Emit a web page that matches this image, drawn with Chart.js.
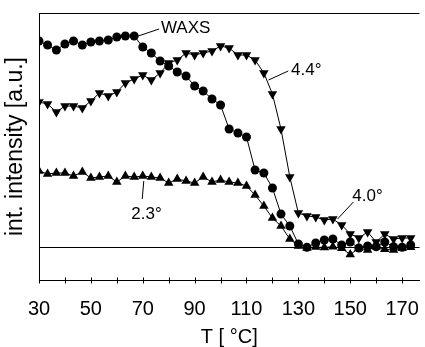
<!DOCTYPE html>
<html><head><meta charset="utf-8">
<script src="https://cdn.jsdelivr.net/npm/chart.js@4/dist/chart.umd.min.js"></script>
<style>html,body{margin:0;padding:0;background:#fff}canvas{display:block}</style>
</head><body><canvas id="c" width="425" height="347"></canvas>
<script>
// Temperature (°C) of each measurement
const temperatures = [30, 33.3, 36.7, 40, 43.3, 46.7, 50, 53.3, 56.7, 60, 63.3, 66.7, 70, 73.3, 76.7, 80, 83.3, 86.7, 90, 93.3, 96.7, 100, 103.3, 106.7, 110, 113.3, 116.7, 120, 123.3, 126.7, 130, 133.3, 136.7, 140, 143.3, 146.7, 150, 153.3, 156.7, 160, 163.3, 166.7, 170, 173.3];
// Integrated intensities [a.u.] (baseline = 0)
const waxs = [206, 202, 197, 203, 206, 202, 205, 206, 207, 210, 211, 211, 200, 194, 186, 181, 175, 171, 161, 156, 148, 142, 118, 114, 110, 77, 74, 59, 33, 21, 3, -0.3, 4, 7, 8, 2, 5, -1, 1, 0.3, 5, 0.3, -0.3, 2];
const peak44 = [145, 143, 135, 141, 141, 139, 146, 154, 151, 155, 164, 168, 172, 167, 174, 184, 187, 194, 192, 194, 196, 201, 199, 192, 192, 187, 174, 153, 118, 70, 34, 31, 30, 27, 28, 22, 13, 9, 15, 5, 13, 8, 9, 9];
const peak23 = [76, 73, 74, 74, 71, 75, 69, 70, 71, 65, 71, 70, 71, 70, 69, 64, 68, 66, 64, 70, 65, 67, 65, 64, 61, 52, 41, 29, 21, 8, 1, -1, 0, -0.5, 0.3, -1.3, -7.5, -1.3, -3, 0.3, -2.3, -3, -1.3, -0.3];
const xTickValues = [30, 40, 50, 60, 70, 80, 90, 100, 110, 120, 130, 140, 150, 160, 170];
const xTickLabels = ['30', '', '50', '', '70', '', '90', '', '110', '', '130', '', '150', '', '170'];
const seriesLabels = ['WAXS', '4.4°', '2.3°', '4.0°'];

const toPts = arr => arr.map((v, i) => ({x: temperatures[i], y: v}));

const FONT = '"Liberation Sans", Arial, Helvetica, sans-serif';

const annotations = [
  {text: seriesLabels[0], tx: 77.0, ty: 219, l: [[68.3, 211], [76.3, 218]]},
  {text: seriesLabels[1], tx: 127.2, ty: 177, l: [[118.5, 167], [126.1, 176]]},
  {text: seriesLabels[2], tx: 65.6, ty: 33, l: [[70.4, 66], [69.8, 48]]},
  {text: seriesLabels[3], tx: 150.8, ty: 51, l: [[145.1, 28], [151.2, 45]]}
];

const deco = {
  id: 'deco',
  afterDraw(chart) {
    const ctx = chart.ctx, xs = chart.scales.x, ys = chart.scales.y;
    ctx.save();
    ctx.strokeStyle = '#000';
    ctx.lineWidth = 1;
    const yb = Math.round(chart.chartArea.bottom) + 0.5;
    xTickValues.forEach(v => {
      const px = Math.round(xs.getPixelForValue(v)) + 0.5;
      ctx.beginPath(); ctx.moveTo(px, yb - 3); ctx.lineTo(px, yb + 3); ctx.stroke();
    });
    ctx.fillStyle = '#000';
    ctx.font = '17px ' + FONT;
    ctx.textBaseline = 'middle';
    ctx.textAlign = 'left';
    annotations.forEach(a => {
      ctx.beginPath();
      ctx.moveTo(xs.getPixelForValue(a.l[0][0]), ys.getPixelForValue(a.l[0][1]));
      ctx.lineTo(xs.getPixelForValue(a.l[1][0]), ys.getPixelForValue(a.l[1][1]));
      ctx.stroke();
      ctx.fillText(a.text, xs.getPixelForValue(a.tx), ys.getPixelForValue(a.ty));
    });
    ctx.restore();
  }
};

const base = {borderColor: '#000', borderWidth: 1, pointBackgroundColor: '#000', pointBorderColor: '#000', pointBorderWidth: 0, tension: 0, fill: false};

new Chart(document.getElementById('c'), {
  type: 'line',
  data: {
    datasets: [
      Object.assign({label: 'WAXS', data: toPts(waxs), pointStyle: 'circle', pointRadius: 4.5}, base),
      Object.assign({label: '4.4° / 4.0°', data: toPts(peak44), pointStyle: 'triangle', pointRotation: 180, pointRadius: 5.5}, base),
      Object.assign({label: '2.3°', data: toPts(peak23), pointStyle: 'triangle', pointRadius: 5.5}, base)
    ]
  },
  options: {
    responsive: false,
    animation: false,
    events: [],
    layout: {padding: {top: 13, right: 0, left: 0, bottom: 0}},
    plugins: {legend: {display: false}, tooltip: {enabled: false}},
    scales: {
      x: {
        type: 'linear', min: 30, max: 176.7,
        afterBuildTicks: s => { s.ticks = xTickValues.map(v => ({value: v})); },
        afterFit: s => { s.height = 67; s.paddingLeft = 0; s.paddingRight = 0; },
        grid: {display: false, drawTicks: false},
        border: {display: true, color: '#000', width: 1},
        ticks: {
          autoSkip: false, maxRotation: 0, padding: 17, color: '#000',
          font: {family: FONT, size: 20},
          callback: (v, i) => xTickLabels[i]
        },
        title: {display: true, text: 'T [ °C]', color: '#000', font: {family: FONT, size: 20, lineHeight: 1}, padding: {top: 0, bottom: 0}}
      },
      y: {
        type: 'linear', min: -33, max: 234,
        afterBuildTicks: s => { s.ticks = [{value: 0}, {value: 234}]; },
        afterFit: s => { s.width = 39; s.paddingTop = 0; s.paddingBottom = 0; },
        grid: {display: true, drawTicks: false, color: '#000', lineWidth: 1},
        border: {display: true, color: '#000', width: 1},
        ticks: {display: false},
        title: {display: true, text: 'int. intensity [a.u.]', color: '#000', font: {family: FONT, size: 23, lineHeight: 1}, padding: {top: 4, bottom: 0}}
      }
    }
  },
  plugins: [deco]
});
</script>
</body></html>
